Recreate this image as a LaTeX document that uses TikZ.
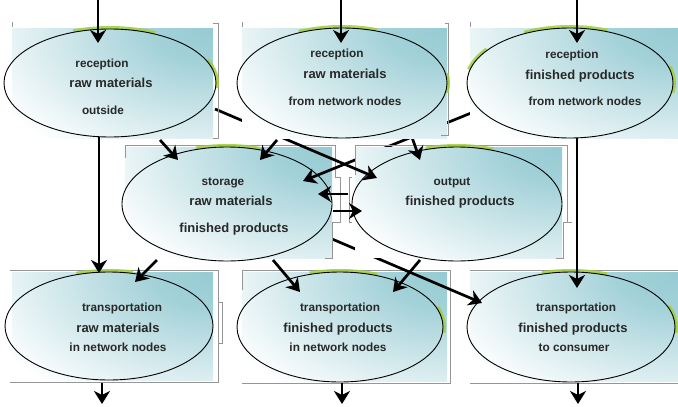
\documentclass[tikz,border=0pt]{standalone}
\usepackage{fontspec}
\setmainfont{Liberation Sans}
\usetikzlibrary{shapes.geometric,arrows.meta,calc}
\definecolor{panel}{RGB}{150,203,211}
\definecolor{glow}{RGB}{160,205,60}
\definecolor{frame}{RGB}{150,150,150}
\definecolor{txt}{RGB}{40,40,40}
\pgfdeclareradialshading{pnlrad}{\pgfpoint{0bp}{0bp}}{color(0bp)=(panel); color(6bp)=(panel!88); color(25bp)=(white); color(50bp)=(white)}
\pgfdeclarelayer{lzero}
\pgfdeclarelayer{lone}
\pgfdeclarelayer{ltwo}
\pgfdeclarelayer{lthree}
\pgfdeclarelayer{lfour}
\pgfdeclarelayer{lfive}
\pgfdeclarelayer{lsix}
\pgfsetlayers{lzero,lone,ltwo,lthree,lfour,lfive,lsix,main}
\newcommand\glowarc[5]{\draw[gl] (#1) ++(#2:#4 and #5) arc[start angle=#2,end angle=#3,x radius=#4,y radius=#5];}
\newcommand\panelshade[4]{%
  \begin{scope}
    \clip (#1,#2) rectangle (#3,#4);
    \fill[white] (#1,#2) rectangle (#3,#4);
    \shade[shading=pnlrad] (#3,#2) ellipse (250 and 150);
  \end{scope}}
\begin{document}
\begin{tikzpicture}[x=1pt,y=-1pt,
  ell/.style={ellipse, draw=black, line width=0.9pt, inner sep=0pt, outer sep=0pt},
  arr/.style={line width=2.7pt, draw=black, -{Stealth[length=13pt,width=16pt,inset=4pt]}},
  small/.style={font=\bfseries\fontsize{11.8}{12}\selectfont, text=txt, inner sep=0pt, anchor=base},
  big/.style={font=\bfseries\fontsize{13}{14}\selectfont, text=txt, inner sep=0pt, anchor=base},
  frm/.style={draw=frame, line width=0.6pt},
  gl/.style={draw=glow, line width=3pt, opacity=0.85}]
\useasboundingbox (0,0) rectangle (678,407);

% ---------- ellipse positions (nodes) ----------
\coordinate (ctl) at (110,83);
\coordinate (ctm) at (342,83);
\coordinate (ctr) at (570,83);
\coordinate (cst) at (227,204);
\coordinate (cop) at (457,204);
\coordinate (cbl) at (109,326);
\coordinate (cbm) at (340,327);
\coordinate (cbr) at (571,327);

% glows
\glowarc{ctl}{250}{295}{107.5}{55.5}
\glowarc{ctl}{335}{365}{107.5}{55.5}
\glowarc{ctm}{246}{289}{106.5}{56.5}
\glowarc{ctm}{350}{370}{106.5}{56.5}
\glowarc{ctr}{244}{291}{104.5}{56.5}
\glowarc{ctr}{194}{217}{104.5}{56.5}
\glowarc{ctr}{343}{370}{104.5}{56.5}
\glowarc{cst}{253}{288}{106.5}{58.5}
\glowarc{cop}{253}{290}{106.5}{58.5}
\glowarc{cbl}{252}{283}{105.5}{55.5}
\glowarc{cbm}{253}{291}{104.5}{56.5}
\glowarc{cbm}{339}{366}{104.5}{56.5}
\glowarc{cbr}{254}{290}{105.5}{56.5}
\glowarc{cbr}{338}{366}{105.5}{56.5}

\node[ell, minimum width=212pt, minimum height=108pt] (tl) at (ctl) {};
\node[ell, minimum width=210pt, minimum height=110pt] (tm) at (ctm) {};
\node[ell, minimum width=206pt, minimum height=110pt] (tr) at (ctr) {};
\node[ell, minimum width=210pt, minimum height=114pt] (st) at (cst) {};
\node[ell, minimum width=210pt, minimum height=114pt] (op) at (cop) {};
\node[ell, minimum width=208pt, minimum height=108pt] (bl) at (cbl) {};
\node[ell, minimum width=206pt, minimum height=110pt] (bm) at (cbm) {};
\node[ell, minimum width=208pt, minimum height=110pt] (br) at (cbr) {};

% texts
\node[small] (tl1) at (102,67) {reception};
\node[big]   (tl2) at (111,87) {raw materials};
\node[small] (tl3) at (103,114) {outside};
\node[small] (tm1) at (337,57) {reception};
\node[big]   (tm2) at (345,78) {raw materials};
\node[small] (tm3) at (345,105) {from network nodes};
\node[small] (tr1) at (572,58) {reception};
\node[big]   (tr2) at (580,79) {finished products};
\node[small] (tr3) at (585,105) {from network nodes};
\node[small] (st1) at (223,185) {storage};
\node[big]   (st2) at (231,205) {raw materials};
\node[big]   (st3) at (234,232) {finished products};
\node[small] (op1) at (452,185) {output};
\node[big]   (op2) at (460,205) {finished products};
\node[small] (bl1) at (122,311) {transportation};
\node[big]   (bl2) at (118,332) {raw materials};
\node[small] (bl3) at (118,351) {in network nodes};
\node[small] (bm1) at (340,311) {transportation};
\node[big]   (bm2) at (338,332) {finished products};
\node[small] (bm3) at (338,351) {in network nodes};
\node[small] (br1) at (576,311) {transportation};
\node[big]   (br2) at (573,332) {finished products};
\node[small] (br3) at (574,351) {to consumer};

% ---------- panels ----------
\begin{pgfonlayer}{lzero}
  \fill[white] (0,0) rectangle (678,407);
  \panelshade{12}{272}{213}{380}
  \panelshade{242}{272}{447}{381}
  \panelshade{470}{272}{678}{381}
  \draw[frm] (10,270) -- (218,270) -- (218,382) -- (10,382);
  \draw[frm] (218,302) -- (222,302) -- (222,343) -- (218,343);
  \draw[frm] (242,290) -- (242,270) -- (450,270) -- (450,383) -- (242,383);
  \draw[frm] (470,270) -- (678,270);
  \draw[frm] (470,383) -- (678,383);
\end{pgfonlayer}
\begin{pgfonlayer}{ltwo}
  \panelshade{125}{147}{332}{258}
  \draw[frm] (125,158) -- (125,145) -- (335,145) -- (335,177);
  \draw[frm] (335,177) -- (340,177) -- (340,222) -- (332,222) -- (332,258) -- (325,258);
\end{pgfonlayer}
\begin{pgfonlayer}{lfour}
  \panelshade{355}{147}{562}{258}
  \draw[frm] (355,175) -- (355,145) -- (567,145) -- (567,222);
  \draw[frm] (352,177) -- (349,177) -- (349,222) -- (352,222);
  \draw[frm] (572,222) -- (563,222) -- (563,258) -- (556,258);
\end{pgfonlayer}
\begin{pgfonlayer}{lsix}
  \panelshade{12}{28}{213}{138}
  \panelshade{242}{28}{447}{138}
  \panelshade{470}{28}{678}{138}
  \draw[frm] (213,23) -- (218,23) -- (218,138) -- (213,138);
  \draw[frm] (12,22) -- (12,27);
  \draw[frm] (242,22) -- (242,27);
  \draw[frm] (445,23) -- (448,23) -- (448,135) -- (441,135);
  \draw[frm] (470,22) -- (470,27);
\end{pgfonlayer}

% ---------- connectors ----------
\coordinate (in1) at (98,0);
\coordinate (in2) at (341,0);
\coordinate (in3) at (577,0);
\coordinate (out1) at (102,404);
\coordinate (out2) at (342,404);
\coordinate (out3) at (578,404);

\draw[arr] (in1) -- ($(tl)+(-12,-40)$);
\draw[arr] (in2) -- ($(tm)+(-1,-40)$);
\draw[arr] (in3) -- ($(tr)+(7,-40)$);
\draw[arr] ($(bl)+(-7,57)$) -- (out1);
\draw[arr] ($(bm)+(2,56)$) -- (out2);
\draw[arr] ($(br)+(7,56)$) -- (out3);

\draw[arr] ($(tl)+(-11,54)$) -- ($(bl)+(-10,-53)$);
\draw[arr] ($(tl)+(50,57)$) -- ($(st)+(-49,-44)$);
\draw[arr] ($(tm)+(-65,57)$) -- ($(st)+(33,-44)$);
\begin{pgfonlayer}{lfive}
  \draw[arr] ($(tl)+(105,26)$) -- ($(op)+(-80,-26)$);
  \draw[arr] ($(tm)+(66,43)$) -- ($(op)+(-37,-44)$);
\end{pgfonlayer}
\begin{pgfonlayer}{lthree}
  \draw[arr] ($(tr)+(-84,24)$) -- ($(st)+(76,-23)$);
\end{pgfonlayer}
\draw[arr] ($(op)+(-109,-10)$) -- ($(st)+(91,-10)$);
\draw[arr] ($(st)+(106,7)$) -- ($(op)+(-95,7)$);
\draw[arr] ($(tr)+(7,55)$) -- ($(br)+(6,-39)$);
\draw[arr] ($(st)+(-70,56)$) -- ($(bl)+(26,-44)$);
\draw[arr] ($(st)+(46,56)$) -- ($(bm)+(-40,-35)$);
\draw[arr] ($(op)+(-37,56)$) -- ($(bm)+(53,-35)$);
\begin{pgfonlayer}{lone}
  \draw[arr] ($(st)+(91,29)$) -- ($(br)+(-89,-24)$);
\end{pgfonlayer}
\end{tikzpicture}
\end{document}
